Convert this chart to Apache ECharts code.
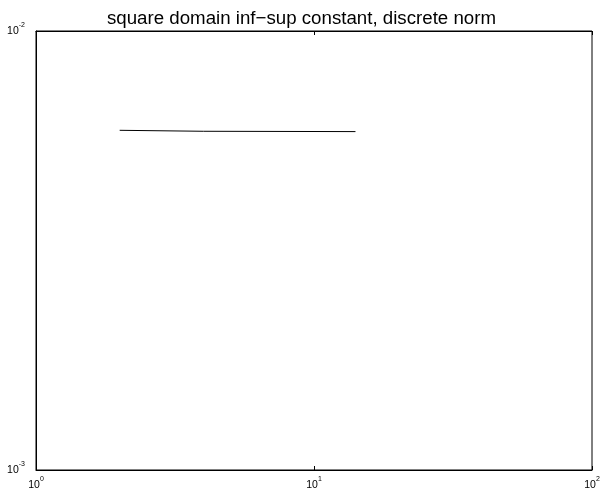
<!DOCTYPE html>
<html><head><meta charset="utf-8">
<script src="https://cdn.jsdelivr.net/npm/echarts@6/dist/echarts.min.js"></script>
<style>html,body{margin:0;padding:0;background:#fff}#c{width:603px;height:496px}</style>
</head><body><div id="c"></div>
<script>
var xValues = [2, 4, 14.1];
var yValues = [0.00594, 0.00591, 0.00590];
var titleText = 'square domain inf\u2212sup constant, discrete norm';

var data = xValues.map(function(x, i){ return [x, yValues[i]]; });
function expLabel(v){
  var e = Math.round(Math.log10(v));
  var s = e < 0 ? '-' + (-e) : String(e);
  return '{b|10}{s|' + s + '}';
}
var rich = {
  b: {fontSize: 10.5, lineHeight: 24, verticalAlign: 'middle', fontFamily: 'Liberation Sans', color: '#000'},
  s: {fontSize: 7, lineHeight: 7, verticalAlign: 'top', padding: [3, 0, 0, 0], fontFamily: 'Liberation Sans', color: '#000'}
};
var chart = echarts.init(document.getElementById('c'), null, {renderer: 'canvas'});
chart.setOption({
  animation: false,
  backgroundColor: '#fff',
  title: {
    text: titleText, left: 'center', top: 4,
    textStyle: {fontSize: 18.7, fontWeight: 'normal', fontFamily: 'Liberation Sans', color: '#000'}
  },
  grid: {left: 36, right: 11, top: 31, bottom: 26, show: true, borderColor: '#000', borderWidth: 1, backgroundColor: 'transparent'},
  xAxis: [{
    type: 'log', logBase: 10, min: 1, max: 100,
    axisLine: {show: true, lineStyle: {color: '#000', width: 1}},
    axisTick: {show: true, inside: true, length: 4, lineStyle: {color: '#000'}},
    minorTick: {show: false},
    splitLine: {show: false},
    axisLabel: {margin: 3, formatter: expLabel, rich: rich}
  }, {
    type: 'log', logBase: 10, min: 1, max: 100, position: 'top',
    axisLine: {show: true, lineStyle: {color: '#000', width: 1}},
    axisTick: {show: true, inside: true, length: 4, lineStyle: {color: '#000'}},
    splitLine: {show: false},
    axisLabel: {show: false}
  }],
  yAxis: [{
    type: 'log', logBase: 10, min: 0.001, max: 0.01,
    axisLine: {show: true, lineStyle: {color: '#000', width: 1}},
    axisTick: {show: false},
    splitLine: {show: false},
    axisLabel: {margin: 11, formatter: expLabel, rich: rich}
  }],
  series: [{
    type: 'line', data: data, showSymbol: false, symbol: 'none',
    lineStyle: {color: '#000', width: 1}, xAxisIndex: 0, yAxisIndex: 0
  }]
});
</script></body></html>
